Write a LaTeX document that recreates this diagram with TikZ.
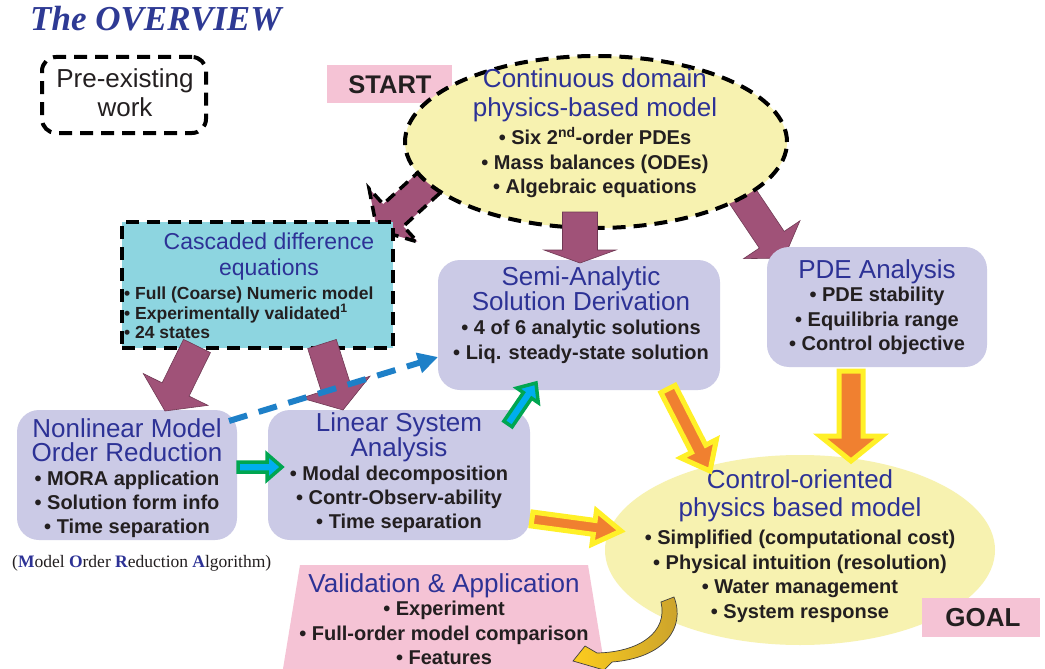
\documentclass[tikz,border=0pt]{standalone}
\usepackage{fontspec}
\setmainfont{Liberation Sans}
\newfontfamily\serifttl{Liberation Serif}
\usetikzlibrary{calc,arrows.meta,shapes.geometric}

\definecolor{ttlblue}{RGB}{46,58,148}
\definecolor{hdblue}{RGB}{45,50,150}
\definecolor{maroonc}{RGB}{160,82,120}
\definecolor{lavfill}{RGB}{203,202,230}
\definecolor{cyanfill}{RGB}{141,213,224}
\definecolor{pinkfill}{RGB}{245,195,213}
\definecolor{ellyel}{RGB}{247,242,176}
\definecolor{orangec}{RGB}{240,128,48}
\definecolor{yelc}{RGB}{255,240,40}
\definecolor{greenc}{RGB}{0,166,81}
\definecolor{cyanc}{RGB}{0,174,239}
\definecolor{arrblue}{RGB}{30,128,200}
\definecolor{goldA}{RGB}{200,160,45}
\definecolor{goldB}{RGB}{252,204,30}
\definecolor{txtblack}{RGB}{35,31,32}

\newcommand\hdtxt{\fontsize{26}{24.5}\selectfont\mdseries\color{hdblue}}
\newcommand\hdcas{\fontsize{23}{26}\selectfont\mdseries\color{hdblue}}
\newcommand\bltxt{\fontsize{20}{24.5}\selectfont\bfseries\color{txtblack}}
\newcommand\blcas{\fontsize{17.5}{19.5}\selectfont\bfseries\color{txtblack}}

% block arrow: style, from, to, shaft half width, head half width, head length
\newcommand\blockarrow[6]{%
  \coordinate (ba-h) at ($(#3)!#6!(#2)$);
  \path[#1] ($(#2)!#4!90:(#3)$) -- ($(ba-h)!#4!90:(#3)$) -- ($(ba-h)!#5!90:(#3)$)
    -- (#3) -- ($(ba-h)!#5!-90:(#3)$) -- ($(ba-h)!#4!-90:(#3)$) -- ($(#2)!#4!-90:(#3)$) -- cycle;
}

\begin{document}
\begin{tikzpicture}[x=1pt,y=-1pt,
  dashbord/.style={draw=black, line width=4pt, dash pattern=on 13pt off 8pt},
  roundbox/.style={fill=lavfill, rounded corners=22pt, inner sep=0pt},
  pinkrect/.style={fill=pinkfill, inner sep=0pt},
  txt/.style={align=center, inner sep=0pt, font=\fontsize{20}{24.5}\selectfont},
  maroonarrow/.style={fill=maroonc, draw=maroonc!70!black, line width=0.6pt, line join=miter},
  maroondash/.style={fill=maroonc, draw=black, line width=3.5pt, dash pattern=on 11pt off 7pt, line join=miter},
  orangearrow/.style={fill=orangec, draw=yelc, line width=5pt, line join=miter},
  greenarrow/.style={fill=cyanc, draw=greenc, line width=3.5pt, line join=miter},
  goldarrow/.style={left color=goldB, right color=goldA, draw=black!75, line width=0.7pt}
]
\useasboundingbox (0,0) rectangle (1045,669);
\fill[white] (0,0) rectangle (1045,669);

% title
\node[anchor=base west, inner sep=0pt] (title) at (30,31)
  {\serifttl\bfseries\itshape\fontsize{35}{35}\selectfont\color{ttlblue}The OVERVIEW};

% pre-existing legend
\node[dashbord, rounded corners=14pt, minimum width=164pt, minimum height=76pt, inner sep=0pt] (pre) at (124,95) {};
\node[txt] (pretx) at (125,93) {\hdtxt\color{txtblack}Pre-existing\\[4.5pt] \hdtxt\color{txtblack}work};

% START
\node[pinkrect, minimum width=125pt, minimum height=38pt] (start) at (389.5,84) {};
\node[txt] (starttx) at (390,85) {\fontsize{25.5}{26}\selectfont\bfseries\color{txtblack}START};

% coordinates for arrows from the top ellipse
\coordinate (a1s) at (443,170);
\coordinate (a1e) at (377,230);
\coordinate (a3s) at (735,185);
\coordinate (a3e) at (784,258);
\blockarrow{maroondash}{a1s}{a1e}{15pt}{36pt}{22pt}
\blockarrow{maroonarrow}{a3s}{a3e}{15pt}{34pt}{22pt}

% top ellipse
\node[ellipse, fill=ellyel, dashbord, minimum width=382pt, minimum height=172pt, inner sep=0pt] (cont) at (596,142) {};
\node[txt] (conttx) at (595,133.5) {\hdtxt Continuous domain\\[4.5pt] \hdtxt physics-based model\\[3.5pt]
  \bltxt • Six 2\textsuperscript{nd}-order PDEs\\ \bltxt • Mass balances (ODEs)\\ \bltxt • Algebraic equations};

% cascaded box
\node[fill=cyanfill, dashbord, minimum width=271pt, minimum height=126pt, inner sep=0pt] (casc) at (257.5,285) {};
\node[txt, font=\fontsize{23}{26}\selectfont] (casctx) at (269,257) {\hdcas Cascaded difference\\ \hdcas equations};
\node[align=left, inner sep=0pt, anchor=west, font=\fontsize{17.5}{19.5}\selectfont] (cascbl) at (124,313) {\blcas • Full (Coarse) Numeric model\\ \blcas • Experimentally validated\textsuperscript{1}\\ \blcas • 24 states};

% semi-analytic box
\node[roundbox, minimum width=282pt, minimum height=130pt] (semi) at (579,325) {};
\node[txt] (semitx) at (581,315) {\hdtxt Semi-Analytic\\ \hdtxt Solution Derivation\\
  \bltxt • 4 of 6 analytic solutions\\ \bltxt • Liq. steady-state solution};

% PDE analysis box
\node[roundbox, minimum width=220pt, minimum height=120pt] (pde) at (877,307) {};
\node[txt] (pdetx) at (877,307) {\hdtxt PDE Analysis\\[-1pt] \bltxt • PDE stability\\ \bltxt • Equilibria range\\ \bltxt • Control objective};

% nonlinear box
\node[roundbox, minimum width=220pt, minimum height=130pt] (nlin) at (127,475) {};
\node[txt, font=\fontsize{20}{24}\selectfont] (nlintx) at (127,478) {\hdtxt Nonlinear Model\\ \hdtxt Order Reduction\\
  \bltxt • MORA application\\ \bltxt • Solution form info\\ \bltxt • Time separation};

% linear box
\node[roundbox, minimum width=262pt, minimum height=130pt] (lin) at (399,475) {};
\node[txt, font=\fontsize{20}{24}\selectfont] (lintx) at (399,473) {\hdtxt Linear System\\ \hdtxt Analysis\\
  \bltxt • Modal decomposition\\ \bltxt • Contr-Observ-ability\\ \bltxt • Time separation};

% MORA note
\node[anchor=west, inner sep=0pt] (mora) at (12,563) {\serifttl\fontsize{17.5}{20}\selectfont\color{txtblack}(\textbf{\color{hdblue}M}odel \textbf{\color{hdblue}O}rder \textbf{\color{hdblue}R}eduction \textbf{\color{hdblue}A}lgorithm)};

% control-oriented ellipse
\node[ellipse, fill=ellyel, minimum width=390pt, minimum height=190pt, inner sep=0pt] (ctrl) at (800,550) {};
\node[txt] (ctrltx) at (800,546) {\hdtxt Control-oriented\\[3.5pt] \hdtxt physics based model\\[3.5pt]
  \bltxt • Simplified (computational cost)\\ \bltxt • Physical intuition (resolution)\\ \bltxt • Water management\\ \bltxt • System response};

% GOAL
\node[pinkrect, minimum width=118pt, minimum height=39pt] (goal) at (981,617.5) {};
\node[txt] (goaltx) at (983,618) {\fontsize{26}{26}\selectfont\bfseries\color{txtblack}GOAL};

% validation trapezoid
\coordinate (v1) at (300,565);
\coordinate (v2) at (588,565);
\coordinate (v3) at (606,675);
\coordinate (v4) at (282,675);
\fill[pinkfill] (v1) -- (v2) -- (v3) -- (v4) -- cycle;
\node[txt] (valtx) at (444,619) {\hdtxt Validation \& Application\\[-1pt] \bltxt • Experiment\\ \bltxt • Full-order model comparison\\ \bltxt • Features};

% maroon arrows
\coordinate (a2s) at (580,212);
\coordinate (a2e) at (580,263);
\blockarrow{maroonarrow}{a2s}{a2e}{17.5pt}{36pt}{13pt}
\coordinate (a4s) at (197,346);
\coordinate (a4e) at (165,411);
\blockarrow{maroonarrow}{a4s}{a4e}{15pt}{36pt}{24pt}
\coordinate (a5s) at (322,344);
\coordinate (a5e) at (343,410);
\blockarrow{maroonarrow}{a5s}{a5e}{15pt}{36pt}{24pt}

% blue dashed arrow
\coordinate (bds) at (229,421);
\coordinate (bde) at (438,357);
\draw[arrblue, line width=6pt, dash pattern=on 19pt off 12pt, -{Triangle[length=20pt, width=20pt]}] (bds) -- (bde);

% green hollow arrows
\coordinate (g1s) at (238,467);
\coordinate (g1e) at (282,467);
\blockarrow{greenarrow}{g1s}{g1e}{5pt}{13pt}{15pt}
\coordinate (g2s) at (508,424);
\coordinate (g2e) at (536,383);
\blockarrow{greenarrow}{g2s}{g2e}{5pt}{13pt}{15pt}

% orange arrows
\coordinate (o1s) at (668,389);
\coordinate (o1e) at (710,471);
\blockarrow{orangearrow}{o1s}{o1e}{8pt}{20pt}{25pt}
\coordinate (o2s) at (851,371);
\coordinate (o2e) at (851,461);
\blockarrow{orangearrow}{o2s}{o2e}{12pt}{31pt}{25pt}
\coordinate (o3s) at (532,519);
\coordinate (o3e) at (621,531);
\blockarrow{orangearrow}{o3s}{o3e}{7pt}{17pt}{27pt}

% gold curved arrow
\path[goldarrow] (661,602) -- (674,597) .. controls (686,628) and (664,658) .. (612,662)
  -- (604,670) -- (573,661) -- (585,646) -- (597,653) .. controls (640,652) and (668,632) .. (661,602) -- cycle;
\end{tikzpicture}
\end{document}
